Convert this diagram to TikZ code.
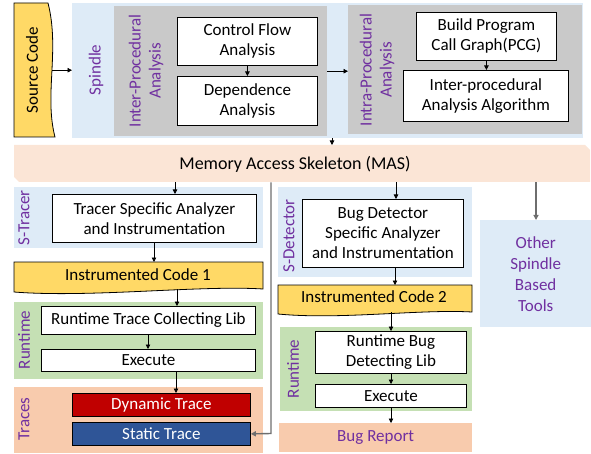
\documentclass[tikz,border=0pt]{standalone}
\usepackage{fontspec}
\setmainfont{Carlito}
\usetikzlibrary{arrows.meta}
\definecolor{blueL}{HTML}{DEEBF7}
\definecolor{greyB}{HTML}{C9C9C9}
\definecolor{peachL}{HTML}{FBE5D6}
\definecolor{yel}{HTML}{FFD966}
\definecolor{greenL}{HTML}{C5E0B4}
\definecolor{peach}{HTML}{F8CBAD}
\definecolor{redT}{HTML}{C00000}
\definecolor{blueT}{HTML}{2F5597}
\definecolor{purp}{HTML}{7030A0}
\definecolor{lineG}{HTML}{6E6E6E}
\tikzset{
  region/.style={draw=none, inner sep=0pt, anchor=north west},
  box/.style={draw=black, fill=white, line width=0.8pt, align=center, inner sep=1pt,
    anchor=north west, font=\fontsize{17}{20}\selectfont},
  lbl/.style={rotate=90, text=purp, align=center, font=\fontsize{17}{20}\selectfont},
  arr/.style={-{Triangle[length=4.5pt,width=4.5pt]}, line width=0.8pt},
  garr/.style={-{Triangle[length=5pt,width=5pt]}, line width=1.4pt, draw=lineG},
  docfill/.style={fill=yel, draw=black, line width=0.8pt}
}
\begin{document}
\begin{tikzpicture}[x=1pt,y=-1pt]
\useasboundingbox (0,0) rectangle (591,454);

% Source code document shape
\path[docfill] (14,3) -- (48,3) .. controls (60,50) and (44,95) .. (55,137) -- (14,137) -- cycle;
\node[region, minimum width=38pt, minimum height=134pt] (src) at (14,3) {};
\node[rotate=90, font=\fontsize{17}{20}\selectfont] (srclbl) at (32,70) {Source Code};

% Spindle
\node[region, fill=blueL, minimum width=511pt, minimum height=135pt] (spindle) at (72,3) {};
\node[lbl] (spl) at (96,70) {Spindle};
\node[region, fill=greyB, minimum width=213pt, minimum height=130pt] (inter) at (114,6) {};
\node[lbl] (interl) at (146,71) {Inter-Procedural\\Analysis};
\node[box, minimum width=140pt, minimum height=48pt] (cfa) at (177,17) {Control Flow\\Analysis};
\node[box, minimum width=140pt, minimum height=49pt] (da) at (177,76) {Dependence\\Analysis};
\node[region, fill=greyB, minimum width=234pt, minimum height=129pt] (intra) at (348,5) {};
\node[lbl] (intral) at (377,70) {Intra-Procedural\\Analysis};
\node[box, minimum width=140pt, minimum height=48pt] (pcg) at (416,12) {Build Program\\Call Graph(PCG)};
\node[box, minimum width=165pt, minimum height=51pt] (iaa) at (403,70) {Inter-procedural\\Analysis Algorithm};

% MAS
\path[fill=peachL] (14,145) -- (585,145) -- (590,150) -- (590,182) -- (19,182) -- (14,177) -- cycle;
\node[region, minimum width=576pt, minimum height=37pt] (mas) at (14,145) {};
\node[font=\fontsize{18}{21}\selectfont] (mastext) at (295,164) {Memory Access Skeleton (MAS)};

% S-Tracer column
\node[region, fill=blueL, minimum width=249pt, minimum height=61pt] (stracer) at (14,187) {};
\node[lbl] (stl) at (24,218) {S-Tracer};
\node[box, minimum width=204pt, minimum height=48pt] (tracer) at (52,194) {Tracer Specific Analyzer\\and Instrumentation};
\path[docfill] (14,262) -- (263,262) -- (263,289) .. controls (200,285) and (90,298) .. (14,292) -- cycle;
\node[region, minimum width=249pt, minimum height=27pt] (instr1) at (14,262) {};
\node[font=\fontsize{17}{20}\selectfont] (i1t) at (138,275) {Instrumented Code 1};
\node[region, fill=greenL, minimum width=249pt, minimum height=77pt] (rt1) at (14,302) {};
\node[lbl] (rt1l) at (24,340) {Runtime};
\node[box, minimum width=214pt, minimum height=28pt] (rtcl) at (41,306) {Runtime Trace Collecting Lib};
\node[box, minimum width=214pt, minimum height=22pt] (ex1) at (41,349) {Execute};
\node[region, fill=peach, minimum width=249pt, minimum height=66pt] (traces) at (14,387) {};
\node[lbl] (trl) at (24,419) {Traces};
\node[box, fill=redT, text=white, minimum width=178pt, minimum height=23pt] (dyn) at (72,393) {Dynamic Trace};
\node[box, fill=blueT, text=white, minimum width=178pt, minimum height=23pt] (stat) at (72,422) {Static Trace};

% S-Detector column
\node[region, fill=blueL, minimum width=194pt, minimum height=90pt] (sdet) at (278,187) {};
\node[lbl] (sdl) at (289,236) {S-Detector};
\node[box, minimum width=161pt, minimum height=68pt] (bugdet) at (302,199) {Bug Detector\\Specific Analyzer\\and Instrumentation};
\path[docfill] (278,285) -- (472,285) -- (472,312) .. controls (420,309) and (340,320) .. (278,314) -- cycle;
\node[region, minimum width=194pt, minimum height=28pt] (instr2) at (278,285) {};
\node[font=\fontsize{17}{20}\selectfont] (i2t) at (374,297) {Instrumented Code 2};
\node[region, fill=greenL, minimum width=192pt, minimum height=84pt] (rt2) at (280,327) {};
\node[lbl] (rt2l) at (293,369) {Runtime};
\node[box, minimum width=151pt, minimum height=42pt] (rbdl) at (315,331) {Runtime Bug\\Detecting Lib};
\node[box, minimum width=151pt, minimum height=23pt] (ex2) at (315,384) {Execute};
\node[region, fill=peach, minimum width=193pt, minimum height=29pt, text=purp,
  font=\fontsize{17}{20}\selectfont] (bugrep) at (279,423) {Bug Report};

% Other tools
\node[region, fill=blueL, minimum width=111pt, minimum height=107pt, text=purp, align=center,
  font=\fontsize{17}{21}\selectfont] (other) at (480,220) {Other\\Spindle\\Based\\Tools};

% Connectors
\draw[arr] (src.east) -- (spindle.west |- src.east);
\draw[arr] (cfa.south) -- (da.north);
\draw[arr] (inter.east) -- (intra.west |- inter.east);
\draw[arr] (pcg.south) -- (pcg.south |- iaa.north);
\coordinate (c1) at (332,0);
\draw[arr] (spindle.south -| c1) -- (mas.north -| c1);
\coordinate (c2) at (175,0);
\draw[arr] (mas.south -| c2) -- (tracer.north -| c2);
\coordinate (c3) at (154,0);
\draw[arr] (tracer.south -| c3) -- (instr1.north -| c3);
\coordinate (c4) at (177,0);
\draw[arr] (c4 |- 0,289) -- (rtcl.north -| c4);
\coordinate (c5) at (148,0);
\draw[arr] (rtcl.south -| c5) -- (ex1.north -| c5);
\coordinate (c6) at (176,0);
\draw[arr] (ex1.south -| c6) -- (dyn.north -| c6);
\coordinate (bend) at (271,433.5);
\draw[garr] (mas.south -| bend) -- (bend) -- (stat.east);
\coordinate (c7) at (396,0);
\draw[arr] (mas.south -| c7) -- (bugdet.north -| c7);
\coordinate (c8) at (395,0);
\draw[arr] (bugdet.south -| c8) -- (instr2.north -| c8);
\coordinate (c9) at (391,0);
\draw[arr] (c9 |- 0,312) -- (rbdl.north -| c9);
\draw[arr] (rbdl.south -| c9) -- (ex2.north -| c9);
\draw[arr] (ex2.south -| c9) -- (bugrep.north -| c9);
\coordinate (c10) at (536,0);
\draw[garr, line width=1.2pt] (mas.south -| c10) -- (other.north -| c10);
\end{tikzpicture}
\end{document}
